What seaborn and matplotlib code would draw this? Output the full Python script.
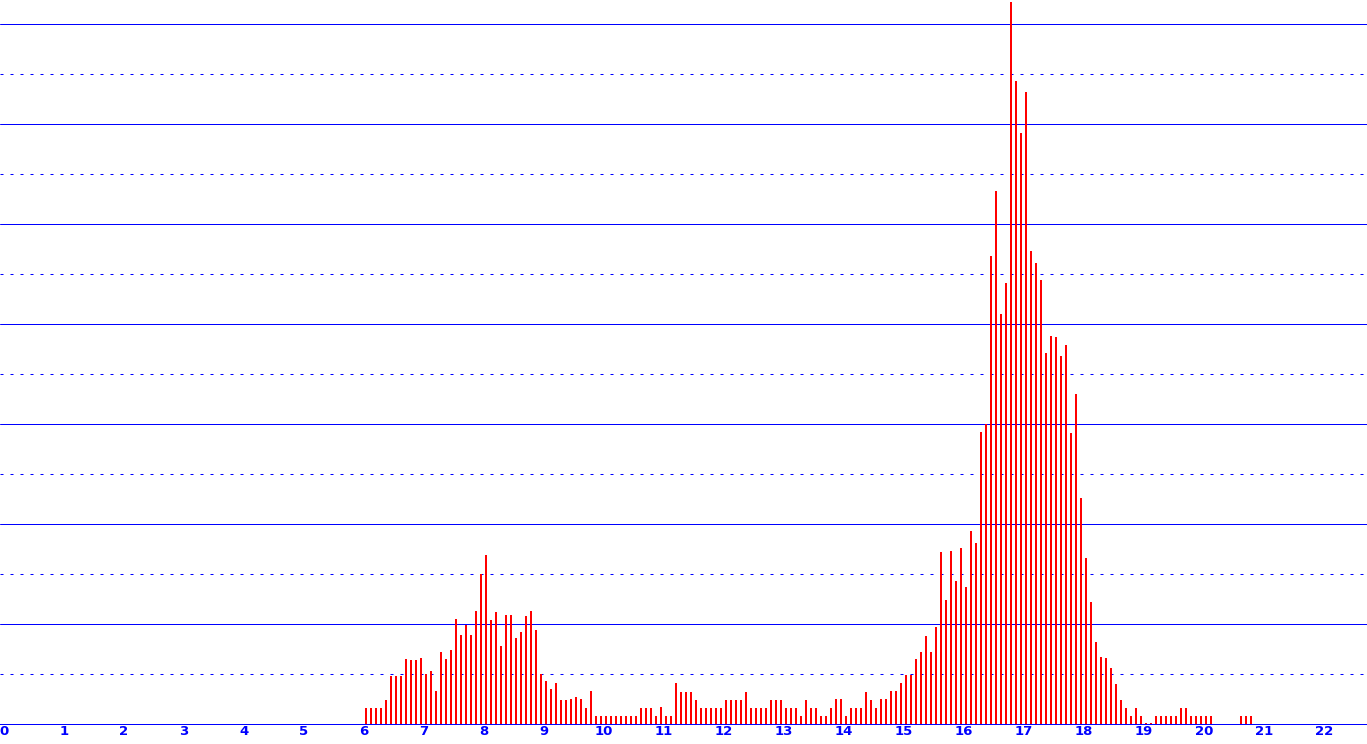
import numpy as np
import pandas as pd
import matplotlib
matplotlib.use('Agg')
import matplotlib.pyplot as plt
import seaborn as sns

# 5-minute bins starting at 6:00
start_hour = 6.0
bin_hours = 1 / 12
counts = [
    16, 16, 16, 16, 24, 48, 48, 48, 65, 64, 64, 66,          # 6:00
    50, 53, 33, 72, 65, 74, 105, 89, 99, 89, 113, 150,       # 7:00
    169, 104, 112, 78, 109, 109, 86, 92, 108, 113, 94, 50,   # 8:00
    43, 35, 41, 24, 24, 25, 27, 25, 16, 33, 8, 8,            # 9:00
    8, 8, 8, 8, 8, 8, 8, 16, 16, 16, 8, 17,                  # 10:00
    8, 8, 41, 32, 32, 32, 24, 16, 16, 16, 16, 16,            # 11:00
    24, 24, 24, 24, 32, 16, 16, 16, 16, 24, 24, 24,          # 12:00
    16, 16, 16, 8, 24, 16, 16, 8, 8, 16, 25, 25,             # 13:00
    8, 16, 16, 16, 32, 24, 16, 25, 25, 33, 33, 41,           # 14:00
    49, 49, 65, 72, 88, 72, 97, 172, 124, 173, 143, 176,     # 15:00
    137, 193, 181, 292, 300, 468, 533, 410, 441, 722, 643, 591,  # 16:00
    632, 473, 461, 444, 371, 388, 387, 368, 379, 291, 330, 226,  # 17:00
    166, 122, 82, 67, 66, 56, 40, 24, 16, 8, 16, 8,          # 18:00
    1, 1, 8, 8, 8, 8, 8, 16, 16, 8, 8, 8,                    # 19:00
    8, 8, 0, 0, 0, 0, 0, 8, 8, 8,                            # 20:00
]
tick_labels = [str(h) for h in range(23)]

bins = start_hour + np.arange(len(counts)) * bin_hours
df = pd.DataFrame({'hour': bins + 1 / 30, 'count': counts})

sns.set_style('white')
fig = plt.figure(figsize=(13.67, 7.44), dpi=100)
ax = fig.add_axes([0, 20 / 744, 1, 724 / 744])

sns.barplot(data=df, x='hour', y='count', native_scale=True, width=0.42,
            color='red', saturation=1, errorbar=None, linewidth=0, ax=ax)

ax.set_xlim(-4 / 60, 1363 / 60)
ax.set_ylim(0, 724)
ax.set_xticks(range(len(tick_labels)))
ax.set_xticklabels(tick_labels, color='#0000ff', fontsize=9.5, fontweight='bold')
ax.tick_params(axis='x', length=0, pad=1)
ax.set_yticks(range(100, 701, 100))
ax.set_yticks(range(50, 651, 100), minor=True)
ax.tick_params(axis='y', which='both', length=0, labelleft=False)
ax.grid(which='major', axis='y', color='#0000ff', lw=0.72, ls='-')
ax.grid(which='minor', axis='y', color='#0000ff', lw=0.72, ls=(0, (3, 7)))
ax.grid(axis='x', visible=False)
ax.set_axisbelow(True)
for side in ['top', 'left', 'right']:
    ax.spines[side].set_visible(False)
ax.spines['bottom'].set_color('#0000ff')
ax.spines['bottom'].set_linewidth(0.72)
ax.set_xlabel('')
ax.set_ylabel('')

fig.savefig('out.png', dpi=100)
